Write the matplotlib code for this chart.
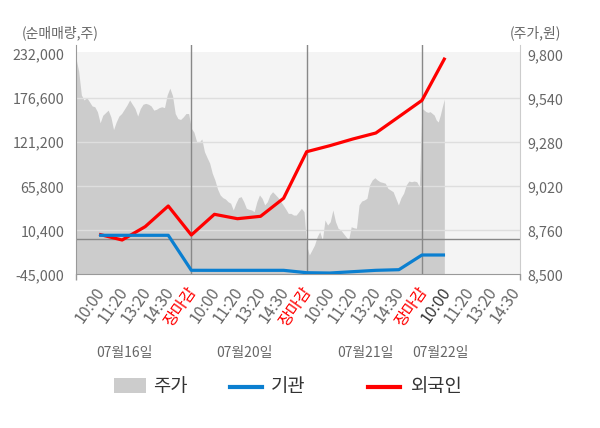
import numpy as np
import matplotlib
matplotlib.use("Agg")
import matplotlib.pyplot as plt
from matplotlib.patches import Rectangle
from matplotlib.lines import Line2D
from matplotlib.transforms import ScaledTranslation, blended_transform_factory

plt.rcParams['font.family'] = ['Noto Sans CJK KR', 'DejaVu Sans']

# x axis labels (one slot each), dates under each day
tick_labels = ['10:00', '11:20', '13:20', '14:30', '장마감'] * 3 + ['10:00', '11:20', '13:20', '14:30']
dates = ['07월16일', '07월20일', '07월21일', '07월22일']
date_pos = [2.09, 7.31, 12.53, 15.80]

# 주가 (price), sampled along each trading day
price_d1 = [9776, 9700, 9560, 9530, 9545, 9520, 9495, 9490, 9460, 9395, 9440, 9455, 9470, 9430,
            9355, 9400, 9435, 9450, 9475, 9500, 9530, 9505, 9480, 9435, 9480, 9505, 9510, 9505,
            9495, 9470, 9475, 9485, 9490, 9485, 9560, 9600, 9555, 9450, 9420, 9415, 9430, 9450, 9450]
price_d2 = [9363, 9340, 9285, 9280, 9300, 9225, 9190, 9157, 9097, 9057, 9004, 8969, 8953, 8945,
            8929, 8920, 8880, 8920, 8953, 8959, 8929, 8890, 8884, 8880, 8870, 8929, 8969, 8949,
            8910, 8929, 8969, 8988, 8972, 8955, 8933, 8910, 8886, 8860, 8860, 8850, 8850, 8870, 8890, 8870]
price_d3 = [8673, 8614, 8643, 8673, 8722, 8752, 8703, 8821, 8791, 8811, 8880, 8811, 8772, 8762,
            8742, 8722, 8703, 8781, 8775, 8772, 8910, 8933, 8939, 8949, 9028, 9057, 9071, 9057,
            9047, 9043, 9038, 9008, 8998, 8988, 8949, 8910, 8953, 8979, 9028, 9051, 9047, 9051, 9047, 9018]
price_d4 = [9481, 9471, 9461, 9457, 9461, 9451, 9441, 9412, 9400, 9440, 9490, 9535]

# 기관 / 외국인 net volume at each labelled time (slots 1..16)
inst = [4100, 4100, 4100, 4100, -39960, -40000, -40000, -40000, -40000, -43000,
        -43400, -41700, -40000, -39200, -20700, -20700]
foreign = [5360, -1820, 15000, 40990, 4480, 30540, 25000, 28000, 50700, 109350,
           116900, 125340, 132900, 153400, 174000, 227700]

left_ticks = [-45000, 10400, 65800, 121200, 176600, 232000]
right_ticks = [8500, 8760, 9020, 9280, 9540, 9800]

GRAY_TXT = '#666666'

fig = plt.figure(figsize=(6, 4.28), dpi=100)
ax = fig.add_axes([76 / 600, 1 - 274.3 / 428, 444 / 600, 229.3 / 428])
ax2 = ax.twinx()
ax.set_zorder(2)
ax2.set_zorder(1)
ax.patch.set_visible(False)
ax2.patch.set_visible(False)

# price area on right axis
px = np.concatenate([
    np.linspace(0, 5, len(price_d1), endpoint=False),
    np.linspace(5, 10, len(price_d2), endpoint=False),
    np.linspace(10, 15, len(price_d3), endpoint=False),
    np.linspace(15, 15.97, len(price_d4)),
])
price = np.array(price_d1 + price_d2 + price_d3 + price_d4)
ax2.axhspan(8500, 9815, color='#f4f4f4', lw=0, zorder=0)
ax2.fill_between(px, 8500, price, color='#cccccc', lw=0, zorder=1)
ax2.set_ylim(8500, 9855)
ax2.set_yticks(right_ticks)
ax2.set_yticklabels([f'{v:,}' for v in right_ticks])
ax2.tick_params(axis='y', length=0, pad=5, labelsize=10.3, labelcolor=GRAY_TXT)
for s in ax2.spines.values():
    s.set_visible(False)

# grid, separators, lines on left axis
for v in left_ticks[1:-1]:
    ax.axhline(v, color='#dedede', lw=1, zorder=1)
ax.axhline(0, color='#888888', lw=1, zorder=2)
for d in [5, 10, 15]:
    ax.axvline(d, color='#888888', lw=1, zorder=2)

lx = np.arange(1, len(inst) + 1)
ax.plot(lx, foreign, color='#ff0000', lw=2.3, zorder=3, solid_capstyle='butt')
ax.plot(lx, inst, color='#0b7fd0', lw=2.3, zorder=4, solid_capstyle='butt')

ax.set_xlim(0, 19.25)
ax.set_ylim(-45000, 243700)
ax.set_yticks(left_ticks)
ax.set_yticklabels([f'{v:,}' for v in left_ticks])
ax.tick_params(axis='y', length=0, pad=8.4, labelsize=10.3, labelcolor=GRAY_TXT)

ax.set_xticks(np.arange(1, len(tick_labels) + 1))
ax.set_xticklabels(tick_labels, rotation=55, ha='right', va='center', rotation_mode='anchor')
ax.tick_params(axis='x', which='major', length=0, pad=10.5, labelsize=11.5, labelcolor=GRAY_TXT)
ax.set_xticks([0, 5, 10, 15, 19.25], minor=True)
ax.tick_params(axis='x', which='minor', length=4, color='#999999', width=1)

offset = ScaledTranslation(0.02, 0, fig.dpi_scale_trans)
for i, lab in enumerate(ax.get_xticklabels()):
    lab.set_transform(lab.get_transform() + offset)
    if tick_labels[i] == '장마감':
        lab.set_color('#ff0000')
    elif i == 15:
        lab.set_color('#333333')

ax.spines['top'].set_visible(False)
ax.spines['left'].set_color('#999999')
ax.spines['bottom'].set_color('#999999')
ax.spines['right'].set_color('#cccccc')

# dates below the time labels
tr = blended_transform_factory(ax.transData, fig.transFigure)
for d, xpos in zip(dates, date_pos):
    ax.text(xpos, 1 - 353.3 / 428, d, transform=tr, ha='center', va='center',
            fontsize=10, color=GRAY_TXT, clip_on=False)

# axis titles
fig.text(60 / 600, 1 - 33 / 428, '(순매매량,주)', ha='center', va='center', fontsize=10, color=GRAY_TXT)
fig.text(535 / 600, 1 - 33 / 428, '(주가,원)', ha='center', va='center', fontsize=10, color=GRAY_TXT)

# legend
ly = 1 - 386.5 / 428
fig.patches.append(Rectangle((114.3 / 600, 1 - 393.3 / 428), 31.4 / 600, 15 / 428,
                             transform=fig.transFigure, color='#cccccc', lw=0))
fig.text(153 / 600, ly, '주가', ha='left', va='center', fontsize=13.5, color='#333333')
fig.lines.append(Line2D([230 / 600, 261.7 / 600], [ly, ly], transform=fig.transFigure,
                        color='#0b7fd0', lw=3))
fig.text(270.7 / 600, ly, '기관', ha='left', va='center', fontsize=13.5, color='#333333')
fig.lines.append(Line2D([368.3 / 600, 400 / 600], [ly, ly], transform=fig.transFigure,
                        color='#ff0000', lw=3))
fig.text(410.7 / 600, ly, '외국인', ha='left', va='center', fontsize=13.5, color='#333333')

fig.savefig('out.png', dpi=100)
